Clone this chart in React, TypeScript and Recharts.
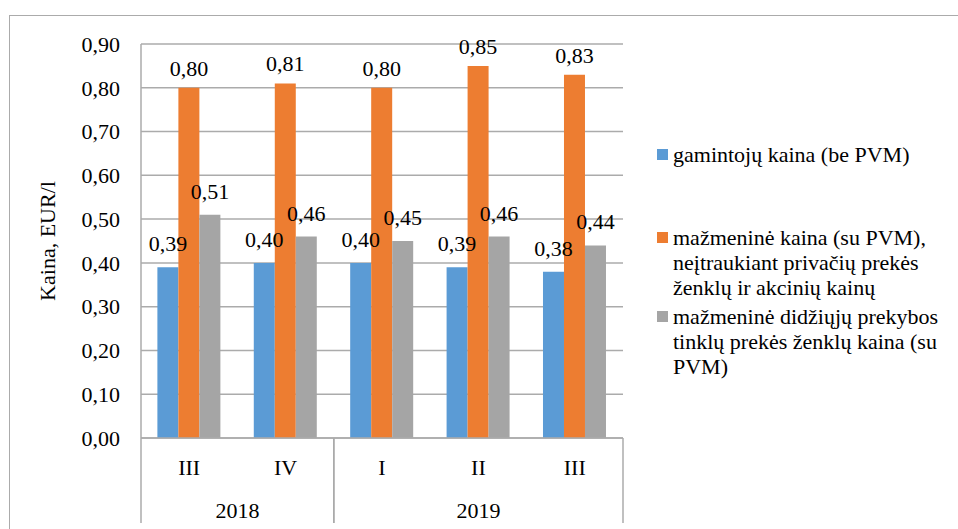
import { BarChart, Bar, XAxis, YAxis, CartesianGrid, LabelList } from 'recharts';

const quarters = ['III', 'IV', 'I', 'II', 'III'];
const years = ['2018', '2018', '2019', '2019', '2019'];
const producerPrice = [0.39, 0.40, 0.40, 0.39, 0.38];
const retailPrice = [0.80, 0.81, 0.80, 0.85, 0.83];
const privateLabelPrice = [0.51, 0.46, 0.45, 0.46, 0.44];
const yTicks = [0, 0.1, 0.2, 0.3, 0.4, 0.5, 0.6, 0.7, 0.8, 0.9];

const series = [
  { key: 'producer', name: 'gamintojų kaina (be PVM)', color: '#5B9BD5', labelOffset: 16 },
  { key: 'retail', name: 'mažmeninė kaina (su PVM),\nneįtraukiant privačių prekės\nženklų ir akcinių kainų', color: '#ED7D31', labelOffset: 12 },
  { key: 'private', name: 'mažmeninė didžiųjų prekybos\ntinklų prekės ženklų kaina (su\nPVM)', color: '#A5A5A5', labelOffset: 16 },
];

const data = quarters.map((q, i) => ({
  key: years[i] + '-' + q,
  producer: producerPrice[i],
  retail: retailPrice[i],
  private: privateLabelPrice[i],
}));

const FONT = "'Liberation Serif', 'Times New Roman', Times, serif";
const LINE = '#ABABAB';
const fmt = (v: number) => v.toFixed(2).replace('.', ',');

const legendTops = [142, 225, 304];

const TwoLevelTick = (props: any) => {
  const { x, y, payload } = props;
  const i = payload.index;
  const half = payload.offset;
  const yr = years[i];
  const first = i === 0 || years[i - 1] !== yr;
  const last = i === years.length - 1 || years[i + 1] !== yr;
  const groupLen = years.filter((v) => v === yr).length;
  return (
    <g>
      <text x={x} y={y + 37} textAnchor="middle" style={{ fontFamily: FONT, fontSize: 22 }} fill="#000">
        {quarters[i]}
      </text>
      {first && (
        <>
          <line x1={x - half} y1={y} x2={x - half} y2={y + 85} stroke={LINE} strokeWidth={1.5} />
          <text x={x + (groupLen - 1) * half} y={y + 80} textAnchor="middle" style={{ fontFamily: FONT, fontSize: 22 }} fill="#000">
            {yr}
          </text>
        </>
      )}
      {last && <line x1={x + half} y1={y} x2={x + half} y2={y + 85} stroke={LINE} strokeWidth={1.5} />}
    </g>
  );
};

const YLabel = (props: any) => {
  const { viewBox } = props;
  const cx = viewBox.x + 47;
  const cy = viewBox.y + viewBox.height / 2;
  return (
    <text x={cx} y={cy} transform={`rotate(-90 ${cx} ${cy})`} textAnchor="middle" dominantBaseline="central" style={{ fontFamily: FONT, fontSize: 22 }} fill="#000">
      Kaina, EUR/l
    </text>
  );
};

export default function App() {
  return (
    <div style={{ position: 'absolute', left: 0, top: 0, width: 958, height: 529, overflow: 'hidden', background: '#fff', fontFamily: FONT }}>
      <div style={{ position: 'absolute', left: 9, top: 15, width: 1000, height: 600, border: `1.5px solid ${LINE}` }} />
      <BarChart
        width={958}
        height={529}
        data={data}
        margin={{ top: 44, right: 335, left: 0, bottom: 0 }}
        barCategoryGap="17%"
        barGap={0}
        style={{ position: 'absolute', left: 0, top: 0, fontFamily: FONT }}
      >
        <CartesianGrid vertical={false} stroke={LINE} strokeWidth={1.5} />
        <XAxis
          dataKey="key"
          height={91}
          tick={<TwoLevelTick />}
          tickLine={false}
          tickSize={0}
          tickMargin={0}
          interval={0}
          axisLine={{ stroke: LINE, strokeWidth: 1.5 }}
        />
        <YAxis
          width={141}
          domain={[0, 0.9]}
          ticks={yTicks}
          tickFormatter={fmt}
          tickLine={false}
          tickSize={0}
          tickMargin={21}
          axisLine={{ stroke: LINE, strokeWidth: 1.5 }}
          tick={{ fontSize: 22, fill: '#000', style: { fontFamily: FONT } }}
          label={{ content: <YLabel /> }}
        />
        {series.map((s) => (
          <Bar key={s.key} dataKey={s.key} fill={s.color} isAnimationActive={false}>
            <LabelList
              dataKey={s.key}
              position="top"
              offset={s.labelOffset}
              formatter={(v: any) => fmt(Number(v))}
              fontSize={22}
              fill="#000"
              style={{ fontFamily: FONT }}
            />
          </Bar>
        ))}
      </BarChart>
      {series.map((s, i) => (
        <div key={s.key} style={{ position: 'absolute', left: 657, top: legendTops[i], display: 'flex', alignItems: 'flex-start', fontFamily: FONT }}>
          <div style={{ width: 11, height: 11, background: s.color, marginTop: 7, marginRight: 5, flexShrink: 0 }} />
          <div style={{ fontSize: 22, lineHeight: '25px', whiteSpace: 'pre-line', color: '#000' }}>{s.name}</div>
        </div>
      ))}
    </div>
  );
}
